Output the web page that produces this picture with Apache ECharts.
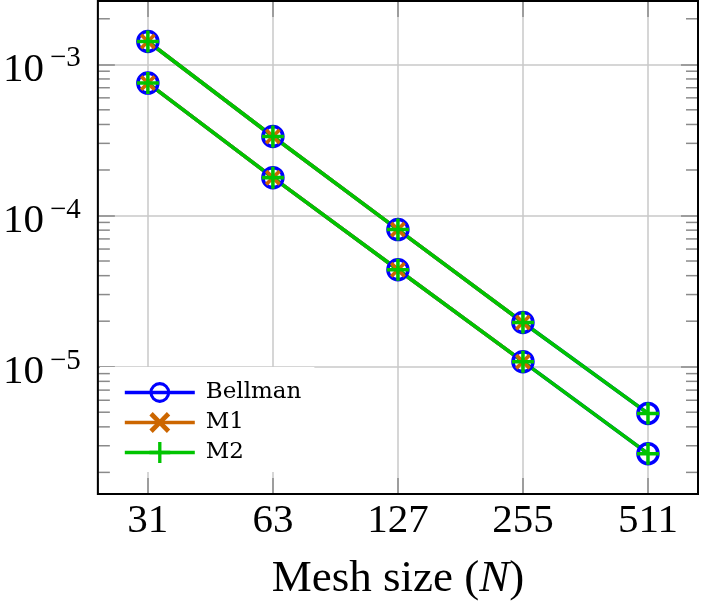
<!DOCTYPE html>
<html>
<head>
<meta charset="utf-8">
<script src="https://cdn.jsdelivr.net/npm/echarts@6/dist/echarts.min.js"></script>
<style>
html,body{margin:0;padding:0;background:#fff;}
#chart{width:701px;height:607px;}
</style>
</head>
<body>
<div id="chart"></div>
<script>
// ---- data ----
const meshSizes = [31, 63, 127, 255, 511];
const xTickLabels = ['31', '63', '127', '255', '511'];
const bellmanUpper = [1.416e-3, 3.33e-4, 8.07e-5, 1.96e-5, 4.91e-6];
const bellmanLower = [7.51e-4, 1.78e-4, 4.38e-5, 1.08e-5, 2.66e-6];
const m1Upper = [1.416e-3, 3.33e-4, 8.07e-5, 1.96e-5, null];
const m1Lower = [7.51e-4, 1.78e-4, 4.38e-5, 1.08e-5, null];
const m2Upper = [1.416e-3, 3.33e-4, 8.07e-5, 1.96e-5, 4.91e-6];
const m2Lower = [7.51e-4, 1.78e-4, 4.38e-5, 1.08e-5, 2.66e-6];
const yMinorTicks = [2e-6,3e-6,4e-6,5e-6,6e-6,7e-6,8e-6,9e-6,
                     2e-5,3e-5,4e-5,5e-5,6e-5,7e-5,8e-5,9e-5,
                     2e-4,3e-4,4e-4,5e-4,6e-4,7e-4,8e-4,9e-4,
                     2e-3];

const X_MIN = 4.6, X_MAX = 9.4;
const Y_MIN = 1.439e-6, Y_MAX = 2.622e-3;

const BLUE = '#0000ff', ORANGE = '#cc6600', GREEN = '#00c400';
const GRID_C = '#c8c8c8', TICK_C = '#8a8a8a';

const xPos = n => Math.log2(n + 1);
const toPairs = arr => arr.map((v, i) => [xPos(meshSizes[i]), v]);

const ringP = 'path://M50 0 A50 50 0 1 1 50 100 A50 50 0 1 1 50 0 Z M50 15 A35 35 0 1 0 50 85 A35 35 0 1 0 50 15 Z';
const crossX = 'path://M0 16 L16 0 L50 34 L84 0 L100 16 L66 50 L100 84 L84 100 L50 66 L16 100 L0 84 L34 50 Z';
const plusP = 'path://M42 0 H58 V42 H100 V58 H58 V100 H42 V58 H0 V42 H42 Z';

const chart = echarts.init(document.getElementById('chart'), null, {renderer: 'canvas'});

function xLabel(v) {
  if (Math.abs(v - Math.round(v)) > 1e-6) return '';
  const idx = meshSizes.findIndex(n => Math.abs(xPos(n) - v) < 1e-6);
  return idx >= 0 ? xTickLabels[idx] : '';
}
function yLabel(v) {
  const l = Math.log10(v);
  const e = Math.round(l);
  if (Math.abs(l - e) > 1e-6) return '';
  return '{b|10}{s|\u2212' + Math.abs(e) + '}';
}

const lineSeries = (name, data, color, symbol, size) => ({
  name, type: 'line', data: toPairs(data),
  symbol, symbolSize: size,
  showSymbol: true,
  lineStyle: {color, width: 3.6},
  itemStyle: {color},
  emphasis: {disabled: true},
  animation: false,
  connectNulls: false
});

const axisCommonX = {
  type: 'value', min: X_MIN, max: X_MAX,
  axisLine: {show: false},
  axisTick: {show: true, inside: true, length: 16, lineStyle: {color: TICK_C, width: 1.5}},
  splitLine: {show: false}
};
const axisCommonY = {
  type: 'log', logBase: 10, min: Y_MIN, max: Y_MAX,
  axisLine: {show: false},
  axisTick: {show: true, inside: true, length: 17, lineStyle: {color: TICK_C, width: 1.5}},
  splitLine: {show: false}
};

chart.setOption({
  backgroundColor: '#fff',
  animation: false,
  grid: {left: 97.7, right: 1, top: 1, bottom: 113, show: true, z: 20,
         borderColor: '#000', borderWidth: 2, backgroundColor: 'transparent'},
  legend: {
    data: ['Bellman', 'M1', 'M2'],
    orient: 'vertical',
    left: 100, top: 367,
    padding: [14, 13, 8, 23],
    itemWidth: 70, itemHeight: 26, itemGap: 7,
    backgroundColor: '#fff',
    selectedMode: false,
    lineStyle: {width: 3.6},
    textStyle: {fontFamily: 'DejaVu Serif', fontSize: 23, color: '#000', padding: [0, 0, 0, 6]}
  },
  xAxis: [
    Object.assign({}, axisCommonX, {
      position: 'bottom',
      splitLine: {show: true, lineStyle: {color: GRID_C, width: 1.5}},
      axisLabel: {formatter: xLabel, fontFamily: 'Liberation Serif', fontSize: 41, color: '#000',
                  margin: 7, lineHeight: 41},
      name: '{r|Mesh size (}{i|N}{r|)}',
      nameLocation: 'middle', nameGap: 63,
      nameTextStyle: {
        rich: {
          r: {fontFamily: 'Liberation Serif', fontSize: 45, color: '#000', lineHeight: 45},
          i: {fontFamily: 'Liberation Serif', fontStyle: 'italic', fontSize: 45, color: '#000', lineHeight: 45}
        }
      }
    }),
    Object.assign({}, axisCommonX, {position: 'top', axisLabel: {show: false}})
  ],
  yAxis: [
    Object.assign({}, axisCommonY, {
      position: 'left',
      splitLine: {show: true, lineStyle: {color: GRID_C, width: 1.5}},
      axisLabel: {
        formatter: yLabel, margin: 17,
        rich: {
          b: {fontFamily: 'Liberation Serif', fontSize: 41, color: '#000', lineHeight: 41, padding: [11, 0, 0, 0]},
          s: {fontFamily: 'Liberation Serif', fontSize: 29, color: '#000', lineHeight: 29, padding: [0, 0, 11, 6]}
        }
      }
    }),
    Object.assign({}, axisCommonY, {position: 'right', axisLabel: {show: false}})
  ],
  series: [
    {
      name: 'minorTicks', type: 'custom', z: 6, silent: true,
      xAxisIndex: 0, yAxisIndex: 0,
      data: yMinorTicks.map(v => [X_MIN, v]),
      renderItem: (params, api) => {
        const y = api.coord([api.value(0), api.value(1)])[1];
        const cs = params.coordSys;
        const st = {stroke: TICK_C, lineWidth: 1.5};
        return {type: 'group', children: [
          {type: 'line', shape: {x1: cs.x, y1: y, x2: cs.x + 12, y2: y}, style: st},
          {type: 'line', shape: {x1: cs.x + cs.width - 12, y1: y, x2: cs.x + cs.width, y2: y}, style: st}
        ]};
      }
    },
    lineSeries('Bellman', bellmanUpper, BLUE, ringP, 23.5),
    lineSeries('Bellman', bellmanLower, BLUE, ringP, 23.5),
    lineSeries('M1', m1Upper, ORANGE, crossX, 16),
    lineSeries('M1', m1Lower, ORANGE, crossX, 16),
    lineSeries('M2', m2Upper, GREEN, plusP, 22),
    lineSeries('M2', m2Lower, GREEN, plusP, 22)
  ]
});
</script>
</body>
</html>
